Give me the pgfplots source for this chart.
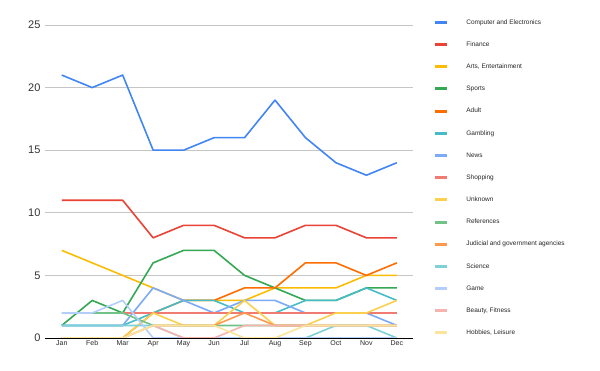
\documentclass[border=0pt]{standalone}
\usepackage{pgfplots}
\pgfplotsset{compat=1.18}
\usepackage{fontspec}
\setmainfont{Liberation Sans}
\definecolor{c1}{HTML}{4285F4}
\definecolor{c2}{HTML}{EA4335}
\definecolor{c3}{HTML}{FBBC04}
\definecolor{c4}{HTML}{34A853}
\definecolor{c5}{HTML}{FF6D01}
\definecolor{c6}{HTML}{46BDC6}
\definecolor{c7}{HTML}{7BAAF7}
\definecolor{c8}{HTML}{F07B72}
\definecolor{c9}{HTML}{FCD04F}
\definecolor{c10}{HTML}{71C287}
\definecolor{c11}{HTML}{FF994D}
\definecolor{c12}{HTML}{7ED1D7}
\definecolor{c13}{HTML}{B3CEFB}
\definecolor{c14}{HTML}{F7B4AE}
\definecolor{c15}{HTML}{FDE49B}
\begin{document}
\begin{tikzpicture}
\begin{axis}[
  name=ax,
  scale only axis, width=368pt, height=313pt,
  xmin=-0.55, xmax=11.53, ymin=0, ymax=25,
  xtick={0,...,11},
  xticklabels={Jan,Feb,Mar,Apr,May,Jun,Jul,Aug,Sep,Oct,Nov,Dec},
  ytick={0,5,10,15,20,25},
  ymajorgrids, grid style={gray!45, line width=0.7pt},
  axis x line*=bottom, axis y line*=left,
  y axis line style={draw=none},
  x axis line style={black, line width=0.9pt, -},
  xtick style={draw=none}, ytick style={draw=none},
  x tick label style={font=\fontsize{7}{8}\selectfont, text=black!85, yshift=1pt},
  y tick label style={font=\fontsize{11}{12}\selectfont, text=black!80},
  yticklabel style={xshift=-1pt},
  /pgf/number format/assume math mode=true,
  every axis plot/.append style={line width=1.6pt, line join=round},
  legend style={at={(1.048,1.0256)}, anchor=north west, draw=none, fill=none,
    font=\fontsize{6.5}{7}\selectfont, row sep=15.57pt, text=black!85,
    nodes={inner sep=0pt, text height=5pt, text depth=1.6pt},
    column sep=0pt},
  legend cell align=left,
  legend image code/.code={\draw[line width=3pt] (0pt,0pt) -- (12pt,0pt); \path[draw=none] (12pt,0pt) -- (31pt,0pt);},
]
\addplot[c1] coordinates {(0,21)(1,20)(2,21)(3,15)(4,15)(5,16)(6,16)(7,19)(8,16)(9,14)(10,13)(11,14)};
\addlegendentry{Computer and Electronics}
\addplot[c2] coordinates {(0,11)(1,11)(2,11)(3,8)(4,9)(5,9)(6,8)(7,8)(8,9)(9,9)(10,8)(11,8)};
\addlegendentry{Finance}
\addplot[c3] coordinates {(0,7)(1,6)(2,5)(3,4)(4,3)(5,3)(6,3)(7,4)(8,4)(9,4)(10,5)(11,5)};
\addlegendentry{Arts, Entertainment}
\addplot[c4] coordinates {(0,1)(1,3)(2,2)(3,6)(4,7)(5,7)(6,5)(7,4)(8,3)(9,3)(10,4)(11,4)};
\addlegendentry{Sports}
\addplot[c5] coordinates {(0,0)(1,0)(2,0)(3,2)(4,3)(5,3)(6,4)(7,4)(8,6)(9,6)(10,5)(11,6)};
\addlegendentry{Adult}
\addplot[c6] coordinates {(0,1)(1,1)(2,1)(3,2)(4,3)(5,3)(6,2)(7,2)(8,3)(9,3)(10,4)(11,3)};
\addlegendentry{Gambling}
\addplot[c7] coordinates {(0,1)(1,1)(2,1)(3,4)(4,3)(5,2)(6,3)(7,3)(8,2)(9,2)(10,2)(11,1)};
\addlegendentry{News}
\addplot[c8] coordinates {(0,2)(1,2)(2,2)(3,2)(4,2)(5,2)(6,2)(7,2)(8,2)(9,2)(10,2)(11,2)};
\addlegendentry{Shopping}
\addplot[c9] coordinates {(0,0)(1,0)(2,0)(3,2)(4,1)(5,1)(6,3)(7,1)(8,1)(9,2)(10,2)(11,3)};
\addlegendentry{Unknown}
\addplot[c10] coordinates {(0,2)(1,2)(2,2)(3,1)(4,1)(5,1)(6,1)(7,1)(8,1)(9,1)(10,1)(11,1)};
\addlegendentry{References}
\addplot[c11] coordinates {(0,0)(1,0)(2,0)(3,1)(4,1)(5,1)(6,2)(7,1)(8,1)(9,1)(10,1)(11,1)};
\addlegendentry{Judicial and government agencies}
\addplot[c12] coordinates {(0,1)(1,1)(2,1)(3,1)(4,0)(5,0)(6,0)(7,0)(8,0)(9,1)(10,1)(11,0)};
\addlegendentry{Science}
\addplot[c13] coordinates {(0,2)(1,2)(2,3)(3,0)(4,0)(5,0)(6,0)(7,0)(8,0)(9,0)(10,0)(11,0)};
\addlegendentry{Game}
\addplot[c14] coordinates {(0,0)(1,0)(2,0)(3,1)(4,0)(5,0)(6,1)(7,1)(8,1)(9,1)(10,1)(11,1)};
\addlegendentry{Beauty, Fitness}
\addplot[c15] coordinates {(0,0)(1,0)(2,0)(3,1)(4,1)(5,1)(6,0)(7,0)(8,1)(9,1)(10,1)(11,1)};
\addlegendentry{Hobbies, Leisure}
\end{axis}
\pgfresetboundingbox
\path[use as bounding box] ([shift={(-45pt,-33pt)}]ax.south west) rectangle ([shift={(555pt,338pt)}]ax.south west);
\end{tikzpicture}
\end{document}
